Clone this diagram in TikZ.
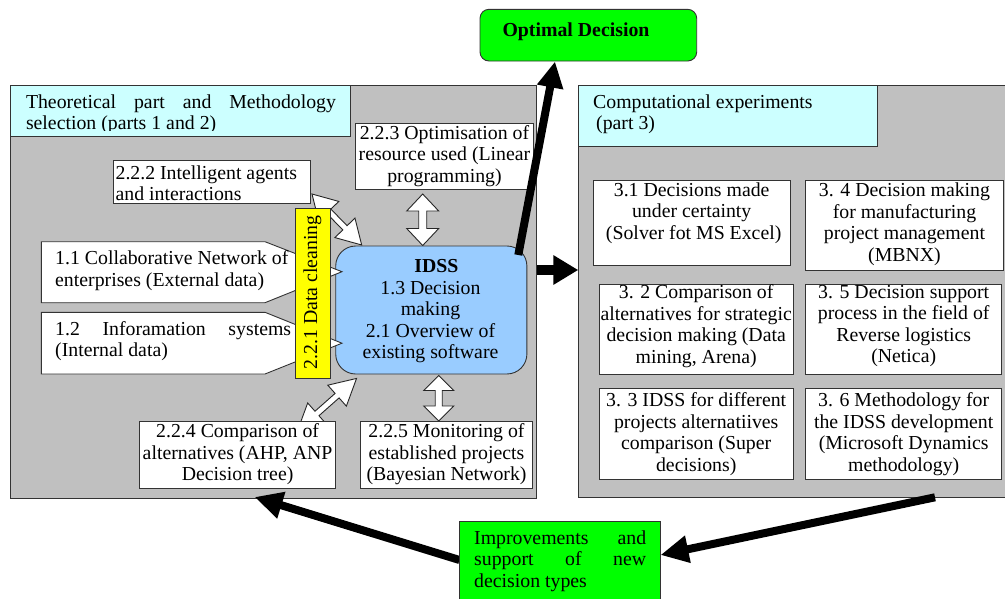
\documentclass[tikz,border=0pt]{standalone}
\usepackage{fontspec}
\setmainfont{Liberation Serif}
\usetikzlibrary{arrows.meta}
\definecolor{panelgray}{HTML}{C0C0C0}
\definecolor{titlecyan}{HTML}{CCFFFF}
\definecolor{idssblue}{HTML}{99CCFF}
\definecolor{hiyellow}{HTML}{FFFF00}
\definecolor{brightgreen}{HTML}{00FF00}
\newcommand\fs{\fontsize{19.8}{21.5}\selectfont}
% a justified line of given width
\newcommand\jline[2]{\makebox[#1][s]{#2}}
% rectangle node from its two corners: style, name, x1, y1, x2, y2
\newcommand\boxat[6]{\node[#1, minimum width={#5-#3}, minimum height={#6-#4}] (#2) at ({(#3+#5)/2},{(#4+#6)/2}) {};}
% hollow double-headed block arrow between two named coordinates
\newdimen\hadx \newdimen\hady
\newcommand\hollowdbl[5]{%
  \pgfextractx{\hadx}{\pgfpointdiff{\pgfpointanchor{#1}{center}}{\pgfpointanchor{#2}{center}}}%
  \pgfextracty{\hady}{\pgfpointdiff{\pgfpointanchor{#1}{center}}{\pgfpointanchor{#2}{center}}}%
  \pgfmathsetmacro\halen{veclen(\hadx,\hady)}%
  \pgfmathsetmacro\haang{atan2(\hady,\hadx)}%
  \pgfmathsetmacro\hab{\halen-#3}%
  \pgfmathsetmacro\hahw{#4/2}%
  \pgfmathsetmacro\hasw{#5/2}%
  \draw[hollow, shift={(#1)}, rotate=\haang] (0,0) -- (#3,\hahw) -- (#3,\hasw) -- (\hab,\hasw) -- (\hab,\hahw) -- (\halen,0) -- (\hab,-\hahw) -- (\hab,-\hasw) -- (#3,-\hasw) -- (#3,-\hahw) -- cycle;
}
\begin{document}
\begin{tikzpicture}[x=1pt,y=-1pt,
  panel/.style={draw=black!80, fill=panelgray, line width=0.9pt, inner sep=0pt, outer sep=0pt},
  titlebox/.style={panel, fill=titlecyan},
  wbox/.style={panel, fill=white},
  idssbox/.style={panel, fill=idssblue, rounded corners=20pt},
  ybox/.style={panel, fill=hiyellow},
  optbox/.style={panel, fill=brightgreen, rounded corners=9pt},
  greenbox/.style={panel, fill=brightgreen},
  wshape/.style={draw=black!80, fill=white, line width=0.9pt},
  hollow/.style={draw=black!85, fill=white, line width=0.9pt},
  txt/.style={font=\fs, inner sep=0pt, align=center, text=black},
  bigarrow/.style={draw=black, line width=8pt, -{Triangle[length=26pt,width=25pt]}}]
\useasboundingbox (0,0) rectangle (1005,598);
\clip (0,0) rectangle (1005,598);
\fill[white] (0,0) rectangle (1005,598);

% panels and their titles
\boxat{panel}{leftpanel}{10.3}{85}{536.7}{498}
\boxat{titlebox}{lefttitle}{10.3}{85}{350.5}{136.7}
\boxat{panel}{rightpanel}{578.3}{85}{1014}{497.3}
\boxat{titlebox}{righttitle}{578.3}{85}{877.7}{146}
\begin{scope}
  \clip (10,85) rectangle (352,130.5);
  \node[txt, align=left, anchor=west] (lefttitletext) at (25.8,114)
    {\jline{310pt}{Theoretical part and Methodology}\\selection (parts 1 and 2)};
\end{scope}
\node[txt, align=left, anchor=west] (righttitletext) at (593,114.2)
  {Computational experiments\\\hspace*{3pt}(part 3)};

% hollow links around the IDSS
\coordinate (h1a) at (422.7,194);   \coordinate (h1b) at (422.7,245.5);
\coordinate (h2a) at (438.7,375.5); \coordinate (h2b) at (438.7,421);
\coordinate (h3a) at (312,194);     \coordinate (h3b) at (361.7,245);
\coordinate (h4a) at (297.5,430.7); \coordinate (h4b) at (356.7,378.3);
\hollowdbl{h1a}{h1b}{17}{32}{8}
\hollowdbl{h2a}{h2b}{15}{30}{7}
\hollowdbl{h3a}{h3b}{24}{28}{6}
\hollowdbl{h4a}{h4b}{26}{28}{6}

% method boxes
\boxat{wbox}{b223}{355.7}{123.3}{533}{189.3}
\boxat{wbox}{b222}{113.6}{160.7}{310}{203.3}
\boxat{wbox}{b224}{139.5}{421.7}{335.7}{488.3}
\boxat{wbox}{b225}{360.9}{421.7}{532}{488.3}
\node[txt] (t223) at (444.5,156) {2.2.3 Optimisation of\\resource used (Linear\\programming)};
\node[txt, align=left, anchor=west] (t222) at (115.4,183) {2.2.2 Intelligent agents\\and interactions};
\node[txt] (t224) at (237.6,454.5) {2.2.4 Comparison of\\alternatives (AHP, ANP\\Decision tree)};
\node[txt] (t225) at (446.5,454.5) {2.2.5 Monitoring of\\established projects\\(Bayesian Network)};

% central IDSS
\boxat{idssbox}{idss}{335.7}{246}{526.9}{374}
\node[txt] (tidss) at (430.5,311.5) {\hspace*{12pt}\textbf{IDSS}\\1.3 Decision\\making\\2.1 Overview of\\existing software};

% data sources
\draw[wshape] (41.3,241.7) -- (265,241.7) -- (342,271.7) coordinate (c11tip) -- (265,302.7) -- (41.3,302.7) -- cycle;
\draw[wshape] (41.3,312.3) -- (265,312.3) -- (342,343.2) coordinate (c12tip) -- (265,374) -- (41.3,374) -- cycle;
\node[txt, align=left, anchor=west] (t11) at (55,270.5) {1.1 Collaborative Network of\\enterprises (External data)};
\node[txt, align=left, anchor=west] (t12) at (55,341) {\jline{236pt}{1.2 Inforamation systems}\\(Internal data)};

% data cleaning bar
\boxat{ybox}{clean}{295}{208.3}{330}{378.3}
\node[txt, rotate=90] (tclean) at (312.5,292.5) {2.2.1 Data cleaning};

% computational experiments
\boxat{wbox}{b31}{593.3}{180}{790}{265}
\boxat{wbox}{b34}{805.7}{180}{1003.3}{270}
\boxat{wbox}{b32}{599}{284}{793.3}{374.3}
\boxat{wbox}{b35}{805.7}{284}{1001.7}{374.3}
\boxat{wbox}{b33}{599}{388.3}{793.3}{479}
\boxat{wbox}{b36}{805.7}{388.3}{1001.7}{479}
\node[txt] (t31) at (691.7,212.8) {3.1 Decisions made\\under certainty\\\hspace*{4pt}(Solver fot MS Excel)};
\node[txt] (t34) at (904.5,224) {3. 4 Decision making\\for manufacturing\\project management\\(MBNX)};
\node[txt] (t32) at (696.2,326) {3. 2 Comparison of\\alternatives for strategic\\decision making (Data\\mining, Arena)};
\node[txt] (t35) at (903.7,326) {3. 5 Decision support\\process in the field of\\Reverse logistics\\(Netica)};
\node[txt] (t33) at (696.2,434) {3. 3 IDSS for different\\projects alternatiives\\comparison (Super\\decisions)};
\node[txt] (t36) at (903.7,434) {3. 6 Methodology for\\the IDSS development\\(Microsoft Dynamics\\methodology)};

% outcome
\boxat{optbox}{opt}{480}{9.3}{696.7}{61}
\node[txt, font=\fs\bfseries] (topt) at (576,31.5) {Optimal Decision};

% main flow arrows
\coordinate (o1) at (518.3,255);  \coordinate (o2) at (555,61.5);
\coordinate (p1) at (537,270);    \coordinate (p2) at (578.3,270);
\coordinate (g1) at (459.5,560);  \coordinate (g2) at (254.6,497);
\coordinate (r1) at (935,497.3);  \coordinate (r2) at (660.5,555);
\draw[bigarrow] (o1) -- (o2);
\draw[bigarrow, line width=10pt, -{Triangle[length=25pt,width=28pt]}] (p1) -- (p2);
\draw[bigarrow, -{Triangle[length=28pt,width=26pt]}] (g1) -- (g2);
\draw[bigarrow, -{Triangle[length=28pt,width=26pt]}] (r1) -- (r2);

% feedback box
\boxat{greenbox}{improve}{459.5}{521}{660.5}{615}
\node[txt, align=left, anchor=west] (timprove) at (474,561)
  {\jline{172pt}{Improvements and}\\\jline{172pt}{support of new}\\decision types};
\end{tikzpicture}
\end{document}
